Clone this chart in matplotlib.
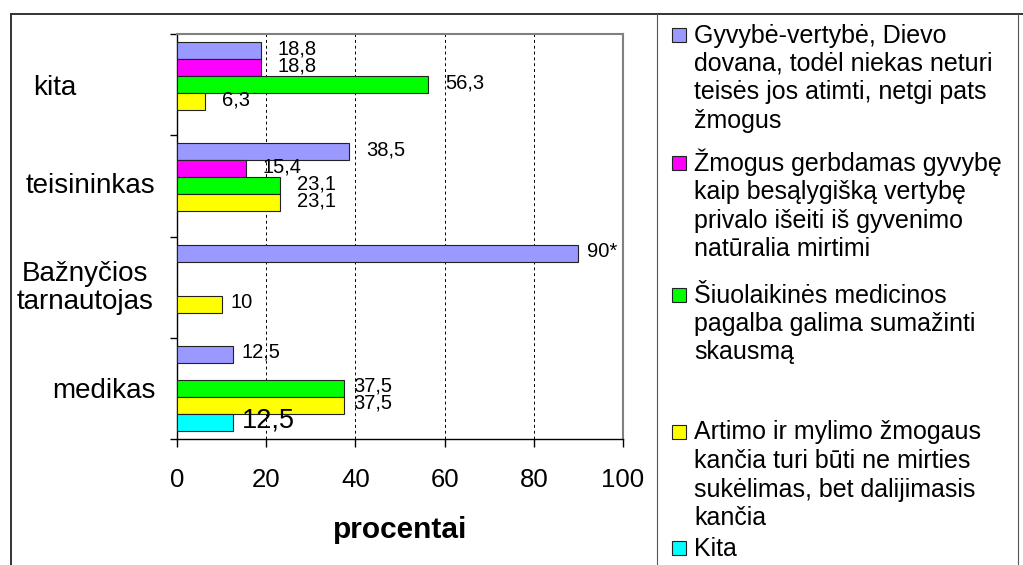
import matplotlib
matplotlib.use('Agg')
import matplotlib.pyplot as plt
import numpy as np
from matplotlib.lines import Line2D
from matplotlib.patches import Rectangle

plt.rcParams['font.family'] = ['Liberation Sans', 'DejaVu Sans']

# ---------------- data ----------------
categories = ['kita', 'teisininkas', 'Bažnyčios\ntarnautojas', 'medikas']
series_names = [
    'Gyvybė-vertybė, Dievo\ndovana, todėl niekas neturi\nteisės jos atimti, netgi pats\nžmogus',
    'Žmogus gerbdamas gyvybę\nkaip besąlygišką vertybę\nprivalo išeiti iš gyvenimo\nnatūralia mirtimi',
    'Šiuolaikinės medicinos\npagalba galima sumažinti\nskausmą',
    'Artimo ir mylimo žmogaus\nkančia turi būti ne mirties\nsukėlimas, bet dalijimasis\nkančia',
    'Kita',
]
gyvybe_vertybe = [18.8, 38.5, 90.0, 12.5]
gerbdamas_gyvybe = [18.8, 15.4, None, None]
medicina = [56.3, 23.1, None, 37.5]
artimo_kancia = [6.3, 23.1, 10.0, 37.5]
kita_series = [None, None, None, 12.5]
series_values = [gyvybe_vertybe, gerbdamas_gyvybe, medicina, artimo_kancia, kita_series]
label_notes = {(0, 2): '*'}          # "90*"
xticks = [0, 20, 40, 60, 80, 100]
xlabel = 'procentai'

# ---------------- style / layout ----------------
colors = ['#9999FF', '#FF00FF', '#00FF00', '#FFFF00', '#00FFFF']
W, H = 1023, 565
label_sizes = [14.5, 14.5, 14.5, 14.5, 19.5]
label_pad_px = [17, 17, 9, 9]          # per category
cat_label_cx = [55, 90, 85, 104]        # px centres of category labels
cat_label_dy = [3, 0, 1, 3]             # px vertical nudges
legend_first_center = [35, 163, 295, 432, 548]
legend_pitch = 28.5


def fx(x):
    return x / W


def fy(y):
    return 1 - y / H


fig = plt.figure(figsize=(W / 100, H / 100), dpi=100)
ax = fig.add_axes([fx(177), fy(439), (623 - 177) / W, (439 - 34) / H])

n_series = len(series_values)
group_w = 0.84
bar_h = group_w / n_series

for si, vals in enumerate(series_values):
    for ci, v in enumerate(vals):
        if v is None:
            continue
        yc = ci + (si - (n_series - 1) / 2) * bar_h
        ax.barh(yc, v, height=bar_h, color=colors[si], edgecolor='#222222',
                linewidth=0.8, zorder=3)
        txt = (f'{v:.0f}' if float(v).is_integer() else f'{v:.1f}'.replace('.', ','))
        txt += label_notes.get((si, ci), '')
        ax.annotate(txt, xy=(v, yc), xytext=(label_pad_px[ci] * 0.72, 1.5),
                    textcoords='offset points', ha='left', va='center',
                    fontsize=label_sizes[si], color='black', zorder=4)

ax.set_xlim(xticks[0], xticks[-1])
ax.set_ylim(len(categories) - 0.5, -0.5)

for xv in xticks[1:-1]:
    ax.axvline(xv, color='black', lw=0.7, linestyle=(0, (3, 3)), zorder=1)

ax.set_xticks(xticks)
ax.set_xticklabels([str(t) for t in xticks])
ax.set_yticks(np.arange(-0.5, len(categories), 1.0))
ax.set_yticklabels([])
ax.tick_params(axis='x', direction='out', length=5.8, width=1, labelsize=18.5,
               pad=15, colors='black')
ax.tick_params(axis='y', direction='out', length=5, width=1)

for side in ['top', 'right']:
    ax.spines[side].set_color('#808080')
    ax.spines[side].set_linewidth(1.5)
for side in ['left', 'bottom']:
    ax.spines[side].set_color('black')
    ax.spines[side].set_linewidth(1.0)

# category labels
ax_h_px = 439 - 34
for ci, name in enumerate(categories):
    ypx = 34 + (ci + 0.5) * ax_h_px / len(categories) + cat_label_dy[ci]
    fig.text(fx(cat_label_cx[ci]), fy(ypx), name, ha='center', va='center',
             multialignment='center', fontsize=20, linespacing=1.1)

fig.text(fx(400), fy(530), xlabel, ha='center', va='center', fontsize=21.5,
         fontweight='bold')

# outer frame
frame_c = '#333333'
fig.add_artist(Line2D([fx(11), fx(1023)], [fy(14), fy(14)], color=frame_c, lw=1.4))
fig.add_artist(Line2D([fx(11), fx(11)], [fy(14), fy(565)], color=frame_c, lw=1.4))
# legend box
leg_c = '#555555'
fig.add_artist(Line2D([fx(657), fx(657)], [fy(14), fy(565)], color=leg_c, lw=0.8))
fig.add_artist(Line2D([fx(1018), fx(1018)], [fy(14), fy(565)], color=leg_c, lw=0.8))

# legend entries
for si, name in enumerate(series_names):
    c0 = legend_first_center[si]
    fig.add_artist(Rectangle((fx(672), fy(c0 + 7)), 14 / W, 14 / H,
                             facecolor=colors[si], edgecolor='#222222',
                             linewidth=0.8, transform=fig.transFigure))
    for li, line in enumerate(name.split('\n')):
        fig.text(fx(694), fy(c0 + li * legend_pitch + 7.5), line, ha='left',
                 va='baseline', fontsize=18)

fig.savefig('out.png', dpi=100)
